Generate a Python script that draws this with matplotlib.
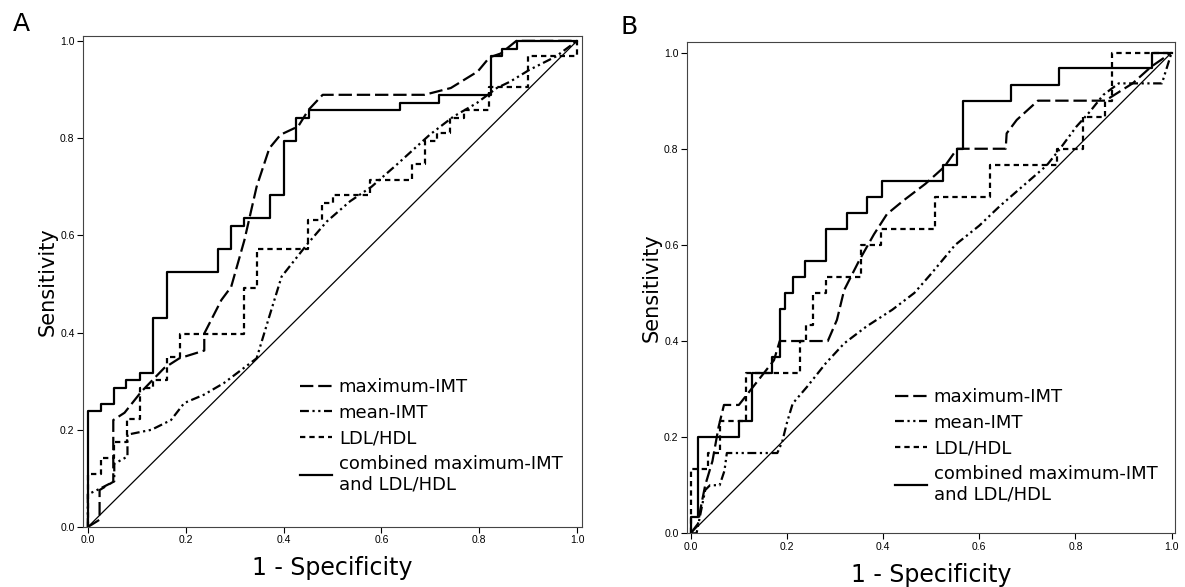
import matplotlib.pyplot as plt

# ---- panel A: ROC points (1 - specificity, sensitivity) ----
a_max_x = [0, 0.024, 0.024, 0.052, 0.052, 0.075, 0.109, 0.156, 0.187, 0.238, 0.238, 0.273, 0.293,
           0.32, 0.345, 0.371, 0.394, 0.43, 0.451, 0.48, 0.688, 0.742, 0.797, 0.821, 0.844, 0.876, 1.0]
a_max_y = [0, 0.015, 0.076, 0.093, 0.22, 0.235, 0.278, 0.327, 0.347, 0.363, 0.398, 0.467, 0.494,
           0.59, 0.70, 0.779, 0.807, 0.824, 0.858, 0.889, 0.889, 0.903, 0.937, 0.966, 0.974, 1.0, 1.0]

a_mean_x = [0, 0, 0.027, 0.054, 0.054, 0.081, 0.081, 0.13, 0.17, 0.197, 0.237, 0.278, 0.345, 0.37,
            0.396, 0.447, 0.488, 0.536, 0.58, 0.631, 0.699, 0.747, 0.795, 0.836, 0.863, 0.902, 0.957, 1.0]
a_mean_y = [0, 0.067, 0.08, 0.094, 0.13, 0.145, 0.19, 0.2, 0.22, 0.255, 0.272, 0.296, 0.347, 0.43,
            0.515, 0.58, 0.628, 0.67, 0.70, 0.745, 0.807, 0.844, 0.872, 0.903, 0.916, 0.94, 0.968, 1.0]

a_ldl_x = [0, 0, 0.027, 0.027, 0.054, 0.054, 0.081, 0.081, 0.106, 0.106, 0.133, 0.133, 0.162, 0.162,
           0.189, 0.189, 0.32, 0.32, 0.345, 0.345, 0.451, 0.451, 0.478, 0.478, 0.502, 0.502, 0.576,
           0.576, 0.663, 0.663, 0.689, 0.689, 0.714, 0.714, 0.741, 0.741, 0.769, 0.769, 0.82, 0.82,
           0.90, 0.90, 1.0, 1.0]
a_ldl_y = [0, 0.11, 0.11, 0.142, 0.142, 0.175, 0.175, 0.222, 0.222, 0.285, 0.285, 0.302, 0.302, 0.349,
           0.349, 0.397, 0.397, 0.492, 0.492, 0.571, 0.571, 0.632, 0.632, 0.667, 0.667, 0.683, 0.683,
           0.714, 0.714, 0.746, 0.746, 0.794, 0.794, 0.81, 0.81, 0.841, 0.841, 0.857, 0.857, 0.905,
           0.905, 0.968, 0.968, 1.0]

a_comb_x = [0, 0, 0.027, 0.027, 0.054, 0.054, 0.078, 0.078, 0.106, 0.106, 0.133, 0.133, 0.161, 0.161,
            0.267, 0.267, 0.293, 0.293, 0.319, 0.319, 0.373, 0.373, 0.40, 0.40, 0.426, 0.426, 0.453,
            0.453, 0.639, 0.639, 0.718, 0.718, 0.824, 0.824, 0.847, 0.847, 0.878, 0.878, 1.0]
a_comb_y = [0, 0.238, 0.238, 0.254, 0.254, 0.286, 0.286, 0.302, 0.302, 0.317, 0.317, 0.429, 0.429,
            0.524, 0.524, 0.571, 0.571, 0.619, 0.619, 0.635, 0.635, 0.683, 0.683, 0.794, 0.794, 0.841,
            0.841, 0.857, 0.857, 0.873, 0.873, 0.889, 0.889, 0.968, 0.968, 0.984, 0.984, 1.0, 1.0]

# ---- panel B ----
b_max_x = [0, 0.015, 0.02, 0.03, 0.045, 0.058, 0.069, 0.1, 0.173, 0.185, 0.285, 0.304, 0.319, 0.35,
           0.381, 0.408, 0.442, 0.488, 0.527, 0.554, 0.655, 0.657, 0.678, 0.722, 0.862, 0.919, 0.958, 1.0]
b_max_y = [0, 0.02, 0.05, 0.1, 0.15, 0.222, 0.267, 0.267, 0.36, 0.4, 0.4, 0.444, 0.506, 0.567,
           0.622, 0.664, 0.692, 0.727, 0.762, 0.8, 0.8, 0.832, 0.86, 0.9, 0.9, 0.936, 0.971, 1.0]

b_mean_x = [0, 0.012, 0.02, 0.03, 0.04, 0.06, 0.07, 0.075, 0.18, 0.19, 0.2, 0.212, 0.242, 0.281,
            0.319, 0.365, 0.419, 0.465, 0.5, 0.55, 0.6, 0.642, 0.688, 0.74, 0.768, 0.802, 0.83,
            0.858, 0.89, 0.98, 1.0]
b_mean_y = [0, 0.0, 0.04, 0.09, 0.1, 0.1, 0.13, 0.167, 0.167, 0.19, 0.23, 0.27, 0.305, 0.354,
            0.395, 0.43, 0.465, 0.5, 0.54, 0.6, 0.64, 0.68, 0.72, 0.765, 0.8, 0.846, 0.877,
            0.912, 0.936, 0.936, 1.0]

b_ldl_x = [0, 0, 0.035, 0.035, 0.06, 0.06, 0.115, 0.115, 0.227, 0.227, 0.24, 0.24, 0.254, 0.254,
           0.281, 0.281, 0.354, 0.354, 0.396, 0.396, 0.508, 0.508, 0.623, 0.623, 0.762, 0.762, 0.815,
           0.815, 0.862, 0.862, 0.877, 0.877, 1.0]
b_ldl_y = [0, 0.133, 0.133, 0.167, 0.167, 0.233, 0.233, 0.333, 0.333, 0.4, 0.4, 0.433, 0.433, 0.5,
           0.5, 0.533, 0.533, 0.6, 0.6, 0.633, 0.633, 0.7, 0.7, 0.767, 0.767, 0.8, 0.8, 0.867, 0.867,
           0.9, 0.9, 1.0, 1.0]

b_comb_x = [0, 0, 0.015, 0.015, 0.1, 0.1, 0.127, 0.127, 0.169, 0.169, 0.185, 0.185, 0.196, 0.196,
            0.212, 0.212, 0.238, 0.238, 0.282, 0.282, 0.325, 0.325, 0.367, 0.367, 0.398, 0.398, 0.525,
            0.525, 0.554, 0.554, 0.567, 0.567, 0.667, 0.667, 0.765, 0.765, 0.959, 0.959, 1.0]
b_comb_y = [0, 0.033, 0.033, 0.2, 0.2, 0.233, 0.233, 0.333, 0.333, 0.367, 0.367, 0.467, 0.467, 0.5,
            0.5, 0.533, 0.533, 0.567, 0.567, 0.633, 0.633, 0.667, 0.667, 0.7, 0.7, 0.733, 0.733, 0.767,
            0.767, 0.8, 0.8, 0.9, 0.9, 0.933, 0.933, 0.967, 0.967, 1.0, 1.0]

labels = ['maximum-IMT', 'mean-IMT', 'LDL/HDL', 'combined maximum-IMT\nand LDL/HDL']
ticks = [0.0, 0.2, 0.4, 0.6, 0.8, 1.0]
tick_labels = ['0.0', '0.2', '0.4', '0.6', '0.8', '1.0']

plt.rcParams['font.family'] = ['DejaVu Sans']

fig = plt.figure(figsize=(11.85, 5.87), dpi=100)
axA = fig.add_axes([0.0700, 0.1022, 0.4211, 0.8365])
axB = fig.add_axes([0.5797, 0.0915, 0.4122, 0.8377])

dash_max = (0, (6, 2.2))
dash_mean = (0, (4, 1.6, 1, 1.6, 1, 1.6))
dash_ldl = (0, (2.4, 1.8))


def draw(ax, mx, my, nx, ny, lx, ly, cx, cy, xlim, ylim, leg_xy):
    ax.plot([0, 1], [0, 1], color='black', lw=0.9)
    h1, = ax.plot(mx, my, color='black', lw=1.6, ls=dash_max)
    h2, = ax.plot(nx, ny, color='black', lw=1.6, ls=dash_mean)
    h3, = ax.plot(lx, ly, color='black', lw=1.6, ls=dash_ldl)
    h4, = ax.plot(cx, cy, color='black', lw=1.6)
    ax.set_xlim(*xlim)
    ax.set_ylim(*ylim)
    ax.set_xticks(ticks)
    ax.set_xticklabels(tick_labels, family='Liberation Sans')
    ax.set_yticks(ticks)
    ax.set_yticklabels(tick_labels, family='Liberation Sans')
    ax.tick_params(direction='out', length=4, width=0.8, labelsize=7.5, pad=2)
    for s in ax.spines.values():
        s.set_linewidth(0.8)
        s.set_color('#444444')
    ax.set_ylabel('Sensitivity', fontsize=15, labelpad=2)
    ax.set_xlabel('1 - Specificity', fontsize=17, labelpad=8)
    ax.legend([h1, h2, h3, h4], labels, loc='upper left', bbox_to_anchor=leg_xy,
              bbox_transform=fig.transFigure, frameon=False, fontsize=13,
              handlelength=1.75, handletextpad=0.4, borderpad=0, borderaxespad=0,
              labelspacing=0.42)


draw(axA, a_max_x, a_max_y, a_mean_x, a_mean_y, a_ldl_x, a_ldl_y, a_comb_x, a_comb_y,
     (-0.01, 1.01), (0, 1.01), (300 / 1185, 1 - 378 / 587))
draw(axB, b_max_x, b_max_y, b_mean_x, b_mean_y, b_ldl_x, b_ldl_y, b_comb_x, b_comb_y,
     (-0.008, 1.008), (0, 1.023), (895 / 1185, 1 - 388 / 587))

fig.text(21 / 1185, 1 - 24 / 587, 'A', fontsize=18, ha='center', va='center')
fig.text(629 / 1185, 1 - 27 / 587, 'B', fontsize=18, ha='center', va='center')

fig.savefig('out.png', dpi=100)
